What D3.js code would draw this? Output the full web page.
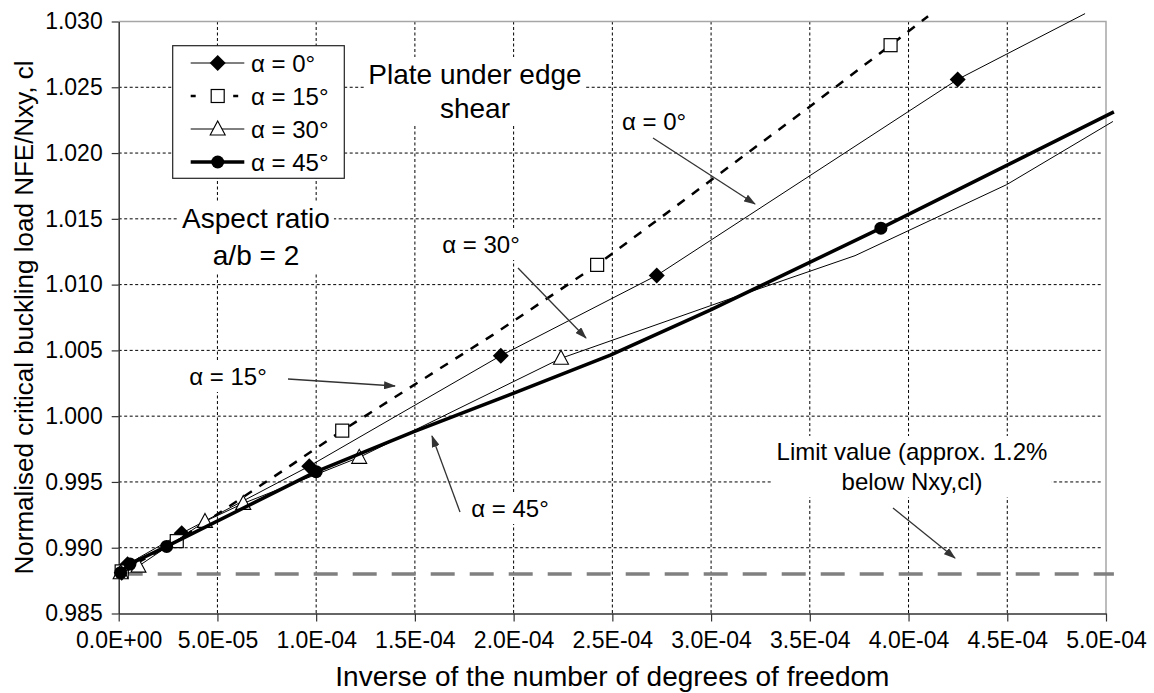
<!DOCTYPE html>
<html>
<head>
<meta charset="utf-8">
<script src="https://cdn.jsdelivr.net/npm/d3@7"></script>
<style>
  body { margin: 0; background: #fff; }
  svg text { font-family: "Liberation Sans", Arial, sans-serif; fill: #000; }
</style>
</head>
<body>
<svg id="chart" width="1154" height="693"></svg>
<script>
// tick values and labels
var xTicks = [0, 5e-5, 1e-4, 1.5e-4, 2e-4, 2.5e-4, 3e-4, 3.5e-4, 4e-4, 4.5e-4, 5e-4];
var yTicks = [0.985, 0.990, 0.995, 1.000, 1.005, 1.010, 1.015, 1.020, 1.025, 1.030];
var xTitle = "Inverse of the number of degrees of freedom";
var yTitle = "Normalised critical buckling load NFE/Nxy, cl";
var seriesNames = ["α = 0°", "α = 15°", "α = 30°", "α = 45°"];
var limitValue = 0.988;

// alpha = 0 (diamonds, thin line)
var a0MarkX = [1.5e-6, 4.5e-6, 3.19e-5, 9.65e-5, 1.935e-4, 2.725e-4, 4.249e-4];
var a0MarkY = [0.9881, 0.98875, 0.9911, 0.9962, 1.0046, 1.0107, 1.0256];
var a0LineX = [1.5e-6, 4.5e-6, 3.19e-5, 9.65e-5, 1.935e-4, 2.725e-4, 4.249e-4, 4.894e-4];
var a0LineY = [0.9881, 0.98875, 0.9911, 0.9962, 1.0046, 1.0107, 1.0256, 1.0306];

// alpha = 15 (open squares, dashed line)
var a15MarkX = [1.5e-6, 2.94e-5, 1.132e-4, 2.423e-4, 3.909e-4];
var a15MarkY = [0.9882, 0.9905, 0.9989, 1.0115, 1.0282];
var a15LineX = [1.5e-6, 2.94e-5, 8.76e-5, 1.132e-4, 1.897e-4, 2.423e-4, 3.506e-4, 3.909e-4, 4.099e-4];
var a15LineY = [0.9882, 0.9905, 0.9963, 0.9989, 1.0062, 1.0115, 1.0236, 1.0282, 1.0304];

// alpha = 30 (open triangles, thin line)
var a30MarkX = [1.0e-6, 1.0e-5, 4.37e-5, 6.31e-5, 1.218e-4, 2.24e-4];
var a30MarkY = [0.9881, 0.9886, 0.9920, 0.99337, 0.99687, 1.0044];
var a30LineX = [1.0e-6, 1.0e-5, 4.37e-5, 6.31e-5, 1.218e-4, 2.24e-4, 3.13e-4, 3.729e-4, 4.497e-4, 5.035e-4];
var a30LineY = [0.9881, 0.9886, 0.9920, 0.99337, 0.99687, 1.0044, 1.0091, 1.0122, 1.0176, 1.0224];

// alpha = 45 (filled circles, thick line)
var a45MarkX = [1.0e-6, 5.7e-6, 2.43e-5, 1.0e-4, 3.86e-4];
var a45MarkY = [0.9881, 0.98876, 0.9901, 0.99578, 1.01429];
var a45LineX = [1.0e-6, 5.7e-6, 2.43e-5, 1.0e-4, 1.492e-4, 1.998e-4, 2.49e-4, 2.995e-4, 3.86e-4, 5.04e-4];
var a45LineY = [0.9881, 0.98876, 0.9901, 0.99578, 0.99881, 1.00173, 1.00464, 1.00806, 1.01429, 1.02313];


var svg = d3.select("#chart");

// plot area (window.top is reserved, so names are prefixed)
var pLeft = 118.7, pRight = 1106, pTop = 21.5, pBottom = 613.5;

var x = d3.scaleLinear().domain([0, 5e-4]).range([pLeft, pRight]);
var y = d3.scaleLinear().domain([0.985, 1.030]).range([pBottom, pTop]);

// 5.0E-05 style labels
var fmtE = function (d) {
  if (d == 0) return "0.0E+00";
  var s = d3.format(".1e")(d).split("e");
  var ex = +s[1];
  return s[0] + "E" + (ex < 0 ? "-" : "+") + String(Math.abs(ex)).padStart(2, "0");
}

var zip = function (xs, ys) {
  return xs.map(function (v, i) { return [v, ys[i]]; });
}

// arrow head
svg.append("defs").append("marker")
  .attr("id", "arrow")
  .attr("viewBox", "0 0 12 8")
  .attr("refX", 11).attr("refY", 4)
  .attr("markerWidth", 12).attr("markerHeight", 8)
  .attr("markerUnits", "userSpaceOnUse")
  .attr("orient", "auto")
  .append("path")
  .attr("d", "M0,0 L12,4 L0,8 Z")
  .attr("fill", "#333");

// grid lines
svg.append("g").selectAll("line")
  .data(yTicks.slice(1, -1))
  .join("line")
  .attr("x1", pLeft).attr("x2", pRight - 3)
  .attr("y1", function (d) { return y(d); })
  .attr("y2", function (d) { return y(d); })
  .attr("stroke", "#000").attr("stroke-width", 1)
  .style("stroke-dasharray", "3,2.5");
svg.append("g").selectAll("line")
  .data(xTicks.slice(1, -1))
  .join("line")
  .attr("y1", pTop).attr("y2", pBottom)
  .attr("x1", function (d) { return x(d); })
  .attr("x2", function (d) { return x(d); })
  .attr("stroke", "#000").attr("stroke-width", 1)
  .style("stroke-dasharray", "3,2.5");

// plot border (top and right)
svg.append("path")
  .attr("d", "M" + pLeft + "," + pTop + "H" + pRight + "V" + pBottom)
  .attr("fill", "none").attr("stroke", "#a6a6a6").attr("stroke-width", 1.5);

// limit line
svg.append("line")
  .attr("x1", x(0)).attr("x2", x(5.04e-4))
  .attr("y1", y(limitValue)).attr("y2", y(limitValue))
  .attr("stroke", "#808080").attr("stroke-width", 3.5)
  .style("stroke-dasharray", "24,15");

// axes
var yAxis = svg.append("g")
  .attr("transform", "translate(" + pLeft + ",0)")
  .call(d3.axisLeft(y).tickValues(yTicks).tickSizeInner(7).tickSizeOuter(0)
    .tickPadding(9).tickFormat(d3.format(".3f")));
var xAxis = svg.append("g")
  .attr("transform", "translate(0," + pBottom + ")")
  .call(d3.axisBottom(x).tickValues(xTicks).tickSizeInner(8).tickSizeOuter(0)
    .tickPadding(10).tickFormat(fmtE));
[yAxis, xAxis].forEach(function (ax) {
  ax.select(".domain").attr("stroke", "#333").attr("stroke-width", 1.5);
  ax.selectAll(".tick line").attr("stroke", "#333").attr("stroke-width", 1.2);
  ax.selectAll(".tick text").attr("font-size", 23)
    .attr("font-family", "Liberation Sans, Arial, sans-serif").attr("fill", "#000");
});

// axis titles
svg.append("text")
  .attr("text-anchor", "middle")
  .attr("x", (pLeft + pRight) / 2).attr("y", 686)
  .attr("font-size", 28)
  .text(xTitle);
svg.append("text")
  .attr("text-anchor", "middle")
  .attr("transform", "translate(33," + (pTop + pBottom) / 2 + ")rotate(-90)")
  .attr("font-size", 26)
  .text(yTitle);

// series
var seriesStyle = [
  {line: zip(a0LineX, a0LineY), marks: zip(a0MarkX, a0MarkY), width: 1, dash: null, shape: "diamond"},
  {line: zip(a15LineX, a15LineY), marks: zip(a15MarkX, a15MarkY), width: 2.5, dash: "9,9", shape: "square"},
  {line: zip(a30LineX, a30LineY), marks: zip(a30MarkX, a30MarkY), width: 1, dash: null, shape: "triangle"},
  {line: zip(a45LineX, a45LineY), marks: zip(a45MarkX, a45MarkY), width: 3.5, dash: null, shape: "circle"}
];

var drawMarker = function (g, shape, cx, cy) {
  if (shape == "diamond") {
    g.append("path").attr("d", "M" + cx + "," + (cy - 8) + "L" + (cx + 8) + "," + cy +
      "L" + cx + "," + (cy + 8) + "L" + (cx - 8) + "," + cy + "Z").attr("fill", "#000");
  } else if (shape == "square") {
    g.append("rect").attr("x", cx - 6.5).attr("y", cy - 6.5).attr("width", 13).attr("height", 13)
      .attr("fill", "#fff").attr("stroke", "#000").attr("stroke-width", 1.2);
  } else if (shape == "triangle") {
    g.append("path").attr("d", "M" + cx + "," + (cy - 8) + "L" + (cx + 7.5) + "," + (cy + 6) +
      "L" + (cx - 7.5) + "," + (cy + 6) + "Z")
      .attr("fill", "#fff").attr("stroke", "#000").attr("stroke-width", 1.1);
  } else {
    g.append("circle").attr("cx", cx).attr("cy", cy).attr("r", 6.5).attr("fill", "#000");
  }
}

var lineGen = d3.line()
  .x(function (d) { return x(d[0]); })
  .y(function (d) { return y(d[1]); });

seriesStyle.forEach(function (s) {
  var g = svg.append("g");
  var p = g.append("path")
    .datum(s.line)
    .attr("fill", "none")
    .attr("stroke", "#000")
    .attr("stroke-width", s.width)
    .attr("stroke-linejoin", "round")
    .attr("d", lineGen);
  if (s.dash) p.style("stroke-dasharray", s.dash);
  s.marks.forEach(function (d) { drawMarker(g, s.shape, x(d[0]), y(d[1])); });
});

// legend
var lg = svg.append("g");
lg.append("rect")
  .attr("x", 172.7).attr("y", 45.7).attr("width", 171.6).attr("height", 132.6)
  .attr("fill", "#fff").attr("stroke", "#222").attr("stroke-width", 1.2);
seriesStyle.forEach(function (s, i) {
  var ry = 63 + i * 33;
  var l = lg.append("line")
    .attr("x1", 190.7).attr("x2", 244.3).attr("y1", ry).attr("y2", ry)
    .attr("stroke", "#000").attr("stroke-width", s.width);
  if (s.dash) l.style("stroke-dasharray", "5,37.5");
  drawMarker(lg, s.shape, 217.7, ry);
  lg.append("text").attr("x", 251).attr("y", ry + 8.5).attr("font-size", 24).text(seriesNames[i]);
});

// text boxes with white background
var addLabel = function (lines, cx, y0, size, lh) {
  var g = svg.append("g");
  var t = g.append("text").attr("text-anchor", "middle").attr("font-size", size);
  lines.forEach(function (ln, i) {
    t.append("tspan").attr("x", cx).attr("y", y0 + i * lh).text(ln);
  });
  var bb = t.node().getBBox();
  g.insert("rect", "text")
    .attr("x", bb.x - 4).attr("y", bb.y - 2)
    .attr("width", bb.width + 8).attr("height", bb.height + 4)
    .attr("fill", "#fff");
}

var addArrow = function (x1, y1, x2, y2) {
  svg.append("line")
    .attr("x1", x1).attr("y1", y1).attr("x2", x2).attr("y2", y2)
    .attr("stroke", "#333").attr("stroke-width", 1.3)
    .attr("marker-end", "url(#arrow)");
}

addLabel(["Plate under edge", "shear"], 475, 84, 28, 34);
addLabel(["Aspect ratio", "a/b = 2"], 256, 228, 28, 37);
addLabel([seriesNames[0]], 654, 130, 24, 0);
addLabel([seriesNames[2]], 481, 253, 24, 0);
addLabel([seriesNames[1]], 228, 385, 24, 0);
addLabel([seriesNames[3]], 510, 517, 24, 0);
addLabel(["Limit value (approx. 1.2%", "below Nxy,cl)"], 912, 460, 24, 30);

addArrow(653, 138, 755, 204);
addArrow(518, 268, 586, 338);
addArrow(288, 379, 395, 386);
addArrow(460, 512, 432, 436);
addArrow(893, 508, 955, 558);
</script>
</body>
</html>
